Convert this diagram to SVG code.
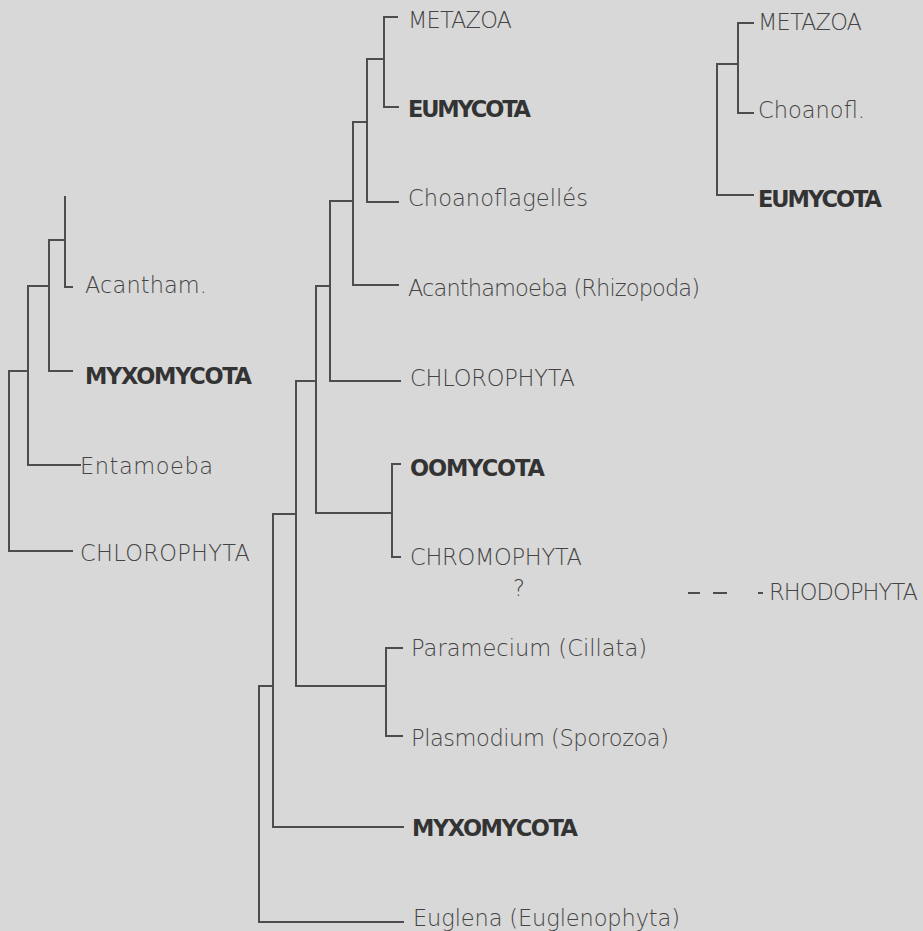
<svg xmlns="http://www.w3.org/2000/svg" width="923" height="931" viewBox="0 0 923 931">
<style>
.bg{fill:#d8d8d8}
.ln{fill:none;stroke:#4d4d4d;stroke-width:2;stroke-linecap:square;stroke-linejoin:miter}
.dash{fill:none;stroke:#4d4d4d;stroke-width:2}
text{font-family:"DejaVu Sans","Liberation Sans",sans-serif;font-size:22.5px}
.t{fill:#444;font-weight:300}
.b{fill:#333;font-weight:bold}
</style>
<rect class="bg" x="0" y="0" width="923" height="931"/>
<g id="connectors">
  <!-- left tree -->
  <path class="ln" d="M65,197 V287 H72"/>
  <path class="ln" d="M49,240 H65"/>
  <path class="ln" d="M49,240 V371 H72"/>
  <path class="ln" d="M28,286 H49"/>
  <path class="ln" d="M28,286 V465 H80"/>
  <path class="ln" d="M9,371 H28"/>
  <path class="ln" d="M9,371 V551 H72"/>
  <!-- middle tree -->
  <path class="ln" d="M397,17 H384 V107 H398"/>
  <path class="ln" d="M367,59 H384"/>
  <path class="ln" d="M367,59 V202 H398"/>
  <path class="ln" d="M353,122 H367"/>
  <path class="ln" d="M353,122 V285 H398"/>
  <path class="ln" d="M330,201 H353"/>
  <path class="ln" d="M330,201 V381 H400"/>
  <path class="ln" d="M316,286 H330"/>
  <path class="ln" d="M316,286 V513 H392"/>
  <path class="ln" d="M400,464 H392 V557 H400"/>
  <path class="ln" d="M296,381 H316"/>
  <path class="ln" d="M296,381 V686 H386"/>
  <path class="ln" d="M402,648 H386 V736 H402"/>
  <path class="ln" d="M273,514 H296"/>
  <path class="ln" d="M273,514 V827 H403"/>
  <path class="ln" d="M259,686 H273"/>
  <path class="ln" d="M259,686 V922 H403"/>
  <!-- right tree -->
  <path class="ln" d="M753,23 H738 V113 H753"/>
  <path class="ln" d="M717,64 H738"/>
  <path class="ln" d="M717,64 V195 H753"/>
  <!-- rhodophyta dashed -->
  <path class="dash" d="M688,593 H700 M713,593 H727 M758,593 H763"/>
</g>
<g id="left-acantham"><text class="t" x="85" y="293" textLength="122">Acantham.</text></g>
<g id="left-myxomycota"><text class="b" x="85" y="383.5" textLength="167">MYXOMYCOTA</text></g>
<g id="left-entamoeba"><text class="t" x="80" y="474" textLength="133">Entamoeba</text></g>
<g id="left-chlorophyta"><text class="t" x="80" y="561" textLength="170">CHLOROPHYTA</text></g>
<g id="mid-metazoa"><text class="t" x="408" y="28" textLength="104">METAZOA</text></g>
<g id="mid-eumycota"><text class="b" x="408" y="117" textLength="123">EUMYCOTA</text></g>
<g id="mid-choanoflagelles"><text class="t" x="408" y="205.5" textLength="180">Choanoflagellés</text></g>
<g id="mid-acanthamoeba"><text class="t" x="408" y="295.5" textLength="292">Acanthamoeba (Rhizopoda)</text></g>
<g id="mid-chlorophyta"><text class="t" x="410" y="386" textLength="165">CHLOROPHYTA</text></g>
<g id="mid-oomycota"><text class="b" x="410" y="476" textLength="135">OOMYCOTA</text></g>
<g id="mid-chromophyta"><text class="t" x="410" y="564.5" textLength="172">CHROMOPHYTA</text></g>
<g id="question"><text class="t" x="513" y="595.5">?</text></g>
<g id="mid-paramecium"><text class="t" x="411" y="656" textLength="236">Paramecium (Cillata)</text></g>
<g id="mid-plasmodium"><text class="t" x="411" y="745.5" textLength="258">Plasmodium (Sporozoa)</text></g>
<g id="mid-myxomycota"><text class="b" x="412" y="836" textLength="166">MYXOMYCOTA</text></g>
<g id="mid-euglena"><text class="t" x="413" y="925.5" textLength="267">Euglena (Euglenophyta)</text></g>
<g id="right-metazoa"><text class="t" x="758" y="29.5" textLength="104">METAZOA</text></g>
<g id="right-choanofl"><text class="t" x="758" y="117.5" textLength="107">Choanofl.</text></g>
<g id="right-eumycota"><text class="b" x="758" y="207" textLength="124">EUMYCOTA</text></g>
<g id="rhodophyta"><text class="t" x="769" y="600" textLength="149">RHODOPHYTA</text></g>
</svg>
